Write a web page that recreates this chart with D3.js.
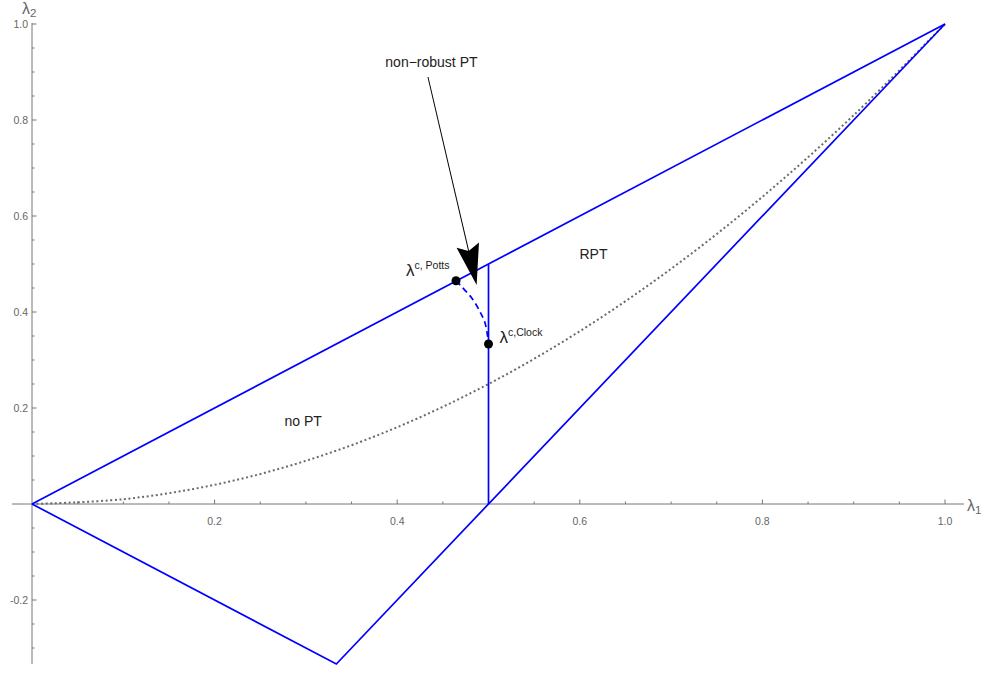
<!DOCTYPE html>
<html>
<head>
<meta charset="utf-8">
<script src="https://cdn.jsdelivr.net/npm/d3@7"></script>
<style>
  body { margin: 0; background: #fff; }
  text { font-family: "Liberation Sans", Arial, sans-serif; }
</style>
</head>
<body>
<svg id="chart"></svg>
<script>
// axis ticks
const xMajor = [0.2, 0.4, 0.6, 0.8, 1.0]
const xMajorLabels = ["0.2", "0.4", "0.6", "0.8", "1.0"]
const yMajor = [-0.2, 0.2, 0.4, 0.6, 0.8, 1.0]
const yMajorLabels = ["-0.2", "0.2", "0.4", "0.6", "0.8", "1.0"]

// phase boundaries (blue lines)
const upperX = [0, 1]
const upperY = [0, 1]
const lowerX = [0, 1/3, 1]
const lowerY = [0, -1/3, 1]
const wallX = [0.5, 0.5]
const wallY = [0, 0.5]

// dashed transition line between the two critical points
const transX = [0.4644, 0.4706, 0.4816, 0.4907, 0.4962, 0.4991, 0.5]
const transY = [0.4652, 0.4527, 0.4292, 0.4006, 0.3771, 0.3485, 0.3333]

// dotted grey curve
const dotX = [0, 0.1, 0.2, 0.3, 0.4, 0.5, 0.6, 0.7, 0.8, 0.9, 1.0]
const dotY = [0, 0.01, 0.04, 0.09, 0.16, 0.25, 0.36, 0.49, 0.64, 0.81, 1.0]

// critical points
const critNames = ["Potts", "Clock"]
const critX = [0.4644, 0.5]
const critY = [0.4652, 0.3333]

const W = 990, H = 677
const svg = d3.select('#chart').attr('width', W).attr('height', H)

const x = d3.scaleLinear().domain([0, 1]).range([32, 945])
const y = d3.scaleLinear().domain([0, 1]).range([504, 24])

const axisCol = '#777'
const labCol = '#666'

// minor ticks every 0.05
const xMinor = d3.range(1, 20).map(i => i * 0.05).filter(v => Math.abs(v * 5 - Math.round(v * 5)) > 1e-6)
const yMinor = d3.range(-6, 20).map(i => i * 0.05).filter(v => Math.abs(v) > 1e-6 && Math.abs(v * 5 - Math.round(v * 5)) > 1e-6)

// x axis
const gx = svg.append('g').attr('transform', `translate(0,${y(0)})`)
gx.append('line').attr('x1', 12).attr('x2', 964).attr('stroke', axisCol)
gx.selectAll('.mn').data(xMinor).join('line')
  .attr('x1', d => x(d)).attr('x2', d => x(d)).attr('y1', 0).attr('y2', -2.5)
  .attr('stroke', axisCol)
gx.selectAll('.mj').data(xMajor).join('line')
  .attr('x1', d => x(d)).attr('x2', d => x(d)).attr('y1', 0).attr('y2', -4.5)
  .attr('stroke', axisCol)
gx.selectAll('text').data(xMajor).join('text')
  .attr('x', d => x(d)).attr('y', 21)
  .attr('text-anchor', 'middle').attr('font-size', 10.5).attr('fill', labCol)
  .text((d, i) => xMajorLabels[i])

// y axis
const gy = svg.append('g').attr('transform', `translate(${x(0)},0)`)
gy.append('line').attr('y1', 23).attr('y2', y(-1/3)).attr('stroke', axisCol)
gy.selectAll('.mn').data(yMinor).join('line')
  .attr('y1', d => y(d)).attr('y2', d => y(d)).attr('x1', 0).attr('x2', 2.5)
  .attr('stroke', axisCol)
gy.selectAll('.mj').data(yMajor).join('line')
  .attr('y1', d => y(d)).attr('y2', d => y(d)).attr('x1', 0).attr('x2', 4.5)
  .attr('stroke', axisCol)
gy.selectAll('text').data(yMajor).join('text')
  .attr('x', -4).attr('y', d => y(d)).attr('dy', '0.35em')
  .attr('text-anchor', 'end').attr('font-size', 10.5).attr('fill', labCol)
  .text((d, i) => yMajorLabels[i])

// axis names
const axName = (px, py, main, sub) => {
  const t = svg.append('text').attr('x', px).attr('y', py)
    .attr('font-size', 16).attr('fill', labCol)
  t.append('tspan').text(main)
  t.append('tspan').attr('font-size', 11.5).attr('dy', 3).text(sub)
}
axName(22, 14, 'λ', '2')
axName(967, 511, 'λ', '1')

const line = d3.line().x(d => x(d[0])).y(d => y(d[1]))
const zip = (a, b) => a.map((v, i) => [v, b[i]])

// dotted curve
svg.append('path').datum(zip(dotX, dotY))
  .attr('d', d3.line().x(d => x(d[0])).y(d => y(d[1])).curve(d3.curveCatmullRom))
  .attr('fill', 'none').attr('stroke', '#6a6a6a').attr('stroke-width', 2)
  .attr('stroke-dasharray', '2,2.6')

const blue = '#0000ff'
;[[upperX, upperY], [lowerX, lowerY], [wallX, wallY]].forEach(([a, b]) => {
  svg.append('path').datum(zip(a, b)).attr('d', line)
    .attr('fill', 'none').attr('stroke', blue).attr('stroke-width', 1.7)
})

svg.append('path').datum(zip(transX, transY))
  .attr('d', d3.line().x(d => x(d[0])).y(d => y(d[1])).curve(d3.curveCatmullRom))
  .attr('fill', 'none').attr('stroke', blue).attr('stroke-width', 1.7)
  .attr('stroke-dasharray', '6,4')

// critical points
svg.selectAll('.crit').data(critNames).join('circle')
  .attr('cx', (d, i) => x(critX[i])).attr('cy', (d, i) => y(critY[i]))
  .attr('r', 4.5).attr('fill', '#000')

// critical point labels
const critLab = [[-50, -5, 'c, Potts'], [11, -1, 'c,Clock']]
critNames.forEach((n, i) => {
  const t = svg.append('text')
    .attr('x', x(critX[i]) + critLab[i][0]).attr('y', y(critY[i]) + critLab[i][1])
    .attr('font-size', 17).attr('fill', '#222')
  t.append('tspan').attr('dy', 0).text('λ')
  t.append('tspan').attr('font-size', 10.5).attr('dy', -7).text(critLab[i][2])
})

// region labels
const regionNames = ['no PT', 'RPT']
const regionX = [0.297, 0.615]
const regionY = [0.172, 0.521]
svg.selectAll('.reg').data(regionNames).join('text')
  .attr('x', (d, i) => x(regionX[i])).attr('y', (d, i) => y(regionY[i]))
  .attr('dy', '0.35em').attr('text-anchor', 'middle')
  .attr('font-size', 14).attr('fill', '#222').text(d => d)

// annotation arrow
const arrowFrom = [0.4337, 0.8896]
const arrowTo = [0.487, 0.456]
svg.append('text').attr('x', x(0.4375)).attr('y', y(0.92)).attr('dy', '0.35em')
  .attr('text-anchor', 'middle').attr('font-size', 14).attr('fill', '#222')
  .text('non\u2212robust PT')

const ax0 = x(arrowFrom[0]), ay0 = y(arrowFrom[1])
const ax1 = x(arrowTo[0]), ay1 = y(arrowTo[1])
const ang = Math.atan2(ay1 - ay0, ax1 - ax0) * 180 / Math.PI
const len = Math.hypot(ax1 - ax0, ay1 - ay0)
const ga = svg.append('g').attr('transform', `translate(${ax0},${ay0}) rotate(${ang})`)
ga.append('line').attr('x1', 0).attr('x2', len - 30).attr('stroke', '#000').attr('stroke-width', 1)
ga.append('path')
  .attr('d', `M${len},0 L${len - 41},-12 L${len - 35},0 L${len - 41},11 Z`)
  .attr('fill', '#000')
</script>
</body>
</html>
